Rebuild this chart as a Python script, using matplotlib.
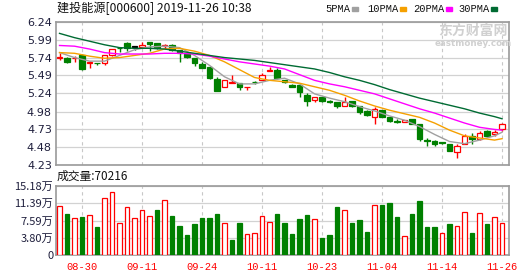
import matplotlib
matplotlib.use("Agg")
import matplotlib.pyplot as plt
from matplotlib.patches import Rectangle
import numpy as np

# Datos (precio en yuanes, volumen en 万手)
fechas = ["08-27", "08-28", "08-29", "08-30", "09-02", "09-03", "09-04", "09-05", "09-06", "09-09",
          "09-10", "09-11", "09-12", "09-16", "09-17", "09-18", "09-19", "09-20", "09-23", "09-24",
          "09-25", "09-26", "09-27", "09-30", "10-08", "10-09", "10-10", "10-11", "10-14", "10-15",
          "10-16", "10-17", "10-18", "10-21", "10-22", "10-23", "10-24", "10-25", "10-28", "10-29",
          "10-30", "10-31", "11-01", "11-04", "11-05", "11-06", "11-07", "11-08", "11-11", "11-12",
          "11-13", "11-14", "11-15", "11-18", "11-19", "11-20", "11-21", "11-22", "11-25", "11-26"]

apertura = [5.74, 5.73, 5.73, 5.77, 5.67, 5.67, 5.66, 5.78, 5.88, 5.94,
            5.89, 5.89, 5.96, 5.95, 5.90, 5.91, 5.85, 5.79, 5.73, 5.65,
            5.61, 5.44, 5.32, 5.38, 5.38, 5.32, 5.40, 5.42, 5.55, 5.57,
            5.43, 5.36, 5.35, 5.22, 5.14, 5.19, 5.13, 5.12, 5.06, 5.13,
            5.06, 4.99, 4.91, 5.00, 4.91, 4.85, 4.83, 4.87, 4.80, 4.58,
            4.57, 4.55, 4.52, 4.41, 4.52, 4.64, 4.59, 4.71, 4.66, 4.74]
cierre = [5.75, 5.68, 5.74, 5.58, 5.68, 5.66, 5.78, 5.86, 5.87, 5.88,
          5.89, 5.92, 5.93, 5.88, 5.91, 5.84, 5.81, 5.75, 5.67, 5.60,
          5.45, 5.27, 5.42, 5.39, 5.32, 5.33, 5.39, 5.50, 5.56, 5.45,
          5.40, 5.33, 5.25, 5.13, 5.19, 5.13, 5.12, 5.06, 5.12, 5.06,
          4.98, 4.93, 5.02, 4.90, 4.85, 4.84, 4.86, 4.80, 4.60, 4.57,
          4.53, 4.54, 4.43, 4.50, 4.64, 4.59, 4.68, 4.64, 4.70, 4.80]
maximo = [5.81, 5.75, 5.76, 5.79, 5.69, 5.67, 5.78, 5.86, 5.89, 5.96,
          5.90, 5.96, 5.96, 5.95, 5.93, 5.93, 5.85, 5.80, 5.73, 5.68,
          5.61, 5.47, 5.42, 5.49, 5.38, 5.33, 5.41, 5.52, 5.61, 5.59,
          5.43, 5.37, 5.35, 5.24, 5.19, 5.19, 5.15, 5.12, 5.18, 5.13,
          5.06, 5.00, 5.05, 5.01, 4.91, 4.87, 4.86, 4.88, 4.80, 4.61,
          4.58, 4.55, 4.52, 4.53, 4.67, 4.68, 4.71, 4.72, 4.72, 4.82]
minimo = [5.71, 5.66, 5.68, 5.57, 5.59, 5.64, 5.63, 5.76, 5.82, 5.83,
          5.84, 5.88, 5.83, 5.86, 5.86, 5.83, 5.68, 5.73, 5.62, 5.60,
          5.44, 5.27, 5.32, 5.38, 5.28, 5.29, 5.37, 5.42, 5.55, 5.44,
          5.38, 5.33, 5.19, 5.06, 5.12, 5.12, 5.10, 5.03, 5.06, 5.04,
          4.95, 4.92, 4.81, 4.90, 4.83, 4.82, 4.83, 4.80, 4.57, 4.50,
          4.50, 4.53, 4.42, 4.33, 4.52, 4.53, 4.58, 4.62, 4.64, 4.71]
volumen = [10.85, 8.93, 8.14, 8.43, 8.87, 6.23, 12.54, 13.93, 7.04, 10.63,
           8.14, 9.90, 8.58, 9.97, 12.10, 8.65, 6.45, 4.47, 6.89, 8.14,
           8.14, 8.93, 7.04, 3.37, 7.04, 4.62, 4.91, 8.58, 7.17, 9.09,
           7.11, 4.69, 7.99, 8.87, 7.92, 3.81, 4.47, 10.63, 9.90, 7.11,
           7.77, 5.13, 11.07, 11.07, 11.51, 8.43, 4.18, 9.09, 11.95, 6.23,
           6.23, 4.84, 6.89, 6.38, 9.46, 4.91, 9.24, 6.89, 8.36, 7.02]
cierre_previo = 5.70  # cierre del dia anterior a 08-27

# medias moviles leidas cada dos sesiones
ma_idx = list(range(0, 60, 2)) + [59]
ma5 = [5.81, 5.74, 5.69, 5.69, 5.77, 5.85, 5.89, 5.90, 5.88, 5.77, 5.63, 5.47, 5.37, 5.37, 5.42, 5.45,
       5.37, 5.23, 5.17, 5.12, 5.05, 4.99, 4.92, 4.86, 4.77, 4.66, 4.56, 4.53, 4.58, 4.64, 4.69]
ma10 = [5.81, 5.80, 5.76, 5.73, 5.74, 5.77, 5.80, 5.86, 5.87, 5.83, 5.77, 5.68, 5.57, 5.46, 5.42, 5.40,
        5.38, 5.33, 5.28, 5.21, 5.13, 5.06, 5.00, 4.95, 4.90, 4.82, 4.72, 4.64, 4.61, 4.58, 4.60]
ma20 = [5.91, 5.90, 5.86, 5.81, 5.79, 5.79, 5.79, 5.80, 5.80, 5.79, 5.76, 5.72, 5.68, 5.65, 5.62, 5.58,
        5.50, 5.42, 5.37, 5.33, 5.28, 5.23, 5.16, 5.09, 5.02, 4.96, 4.89, 4.82, 4.76, 4.73, 4.72]
ma30 = [6.08, 6.02, 5.97, 5.92, 5.88, 5.87, 5.87, 5.86, 5.83, 5.80, 5.77, 5.74, 5.72, 5.70, 5.67, 5.64,
        5.61, 5.58, 5.53, 5.47, 5.42, 5.36, 5.29, 5.23, 5.17, 5.12, 5.07, 5.02, 4.96, 4.91, 4.88]

fechas_marcadas = ["08-30", "09-11", "09-24", "10-11", "10-23", "11-04", "11-14", "11-26"]
precio_ticks = [4.23, 4.48, 4.73, 4.98, 5.24, 5.49, 5.74, 5.99, 6.24]
vol_ticks = [0, 3.80, 7.59, 11.39, 15.18]
vol_etiquetas = ["0", "3.80万", "7.59万", "11.39万", "15.18万"]
titulo = "建投能源[000600] 2019-11-26 10:38"
vol_actual = 70216

ROJO = "#ff0000"
VERDE = "#008000"
GRIS_BORDE = "#9a9a9a"
COLOR_TICK = "#1e1e3c"
CJK = ["Noto Sans CJK SC", "DejaVu Sans"]
W, H = 530, 276


def fx(px):
    return px / W


def fy(py):
    return 1 - py / H


fig = plt.figure(figsize=(W / 100, H / 100), dpi=100)
ax = fig.add_axes([fx(56), fy(165), fx(453), 143 / H])
axv = fig.add_axes([fx(56), fy(255), fx(453), 69 / H])

x = np.arange(len(cierre))
o = np.array(apertura)
c = np.array(cierre)
h = np.array(maximo)
l = np.array(minimo)

# velas
color_vela = np.where(c > o, ROJO, np.where(c < o, VERDE, "#000000"))
relleno = np.where(c > o, "white", color_vela)
ax.vlines(x, l, h, colors=color_vela, lw=1.0, zorder=2)
ax.bar(x, np.maximum(np.abs(c - o), 0.006), bottom=np.minimum(o, c), width=0.68,
       color=relleno, edgecolor=color_vela, linewidth=0.9, zorder=3)

# medias moviles
ax.plot(ma_idx, ma5, color="#a0a0a0", lw=1.0, zorder=4)
ax.plot(ma_idx, ma10, color="#f5a000", lw=1.0, zorder=4)
ax.plot(ma_idx, ma20, color="#ff00ff", lw=1.0, zorder=4)
ax.plot(ma_idx, ma30, color="#006b33", lw=1.0, zorder=4)

# volumen: rojo si cierra por encima del dia anterior
previo = np.concatenate([[cierre_previo], c[:-1]])
sube = c > previo
color_vol = np.where(sube, ROJO, VERDE)
axv.bar(x, volumen, width=0.64, color=np.where(sube, "white", VERDE),
        edgecolor=color_vol, linewidth=0.9, zorder=3)

pos_fechas = [fechas.index(f) for f in fechas_marcadas]

for a in (ax, axv):
    a.set_xlim(-0.47, 59.93)
    a.set_xticks(pos_fechas)
    a.grid(axis="y", color="#d2d2d2", lw=0.9, zorder=0)
    a.grid(axis="x", color="#c8c8c8", lw=0.8, linestyle=(0, (3, 3)), zorder=0)
    a.set_axisbelow(True)
    for s in a.spines.values():
        s.set_color(GRIS_BORDE)
        s.set_linewidth(1.2)
    a.tick_params(length=0, colors=COLOR_TICK, labelsize=8)

ax.set_ylim(4.23, 6.24)
ax.set_yticks(precio_ticks)
ax.set_yticklabels([f"{v:.2f}" for v in precio_ticks])
ax.tick_params(axis="y", pad=3)
ax.tick_params(axis="x", labelbottom=False)

axv.set_ylim(0, 15.18)
axv.set_yticks(vol_ticks)
axv.set_yticklabels(vol_etiquetas, family=CJK)
axv.tick_params(axis="y", pad=2)
axv.set_xticklabels(fechas_marcadas, family="Liberation Mono", fontsize=7.5, color=ROJO)
axv.tick_params(axis="x", pad=5)

# textos de cabecera
fig.text(fx(57), fy(8), titulo, family=CJK, fontsize=8.7, va="center", ha="left", color="#111111")
fig.text(fx(57), fy(176), f"成交量:{vol_actual}", family=CJK, fontsize=8.5, va="center",
         ha="left", color="#111111")

leyenda = [("5PMA", "#a0a0a0", 325), ("10PMA", "#f5a000", 367),
           ("20PMA", "#ff00ff", 413), ("30PMA", "#006b33", 458)]
for nombre, color, px in leyenda:
    fig.text(fx(px), fy(9), nombre, family="Liberation Mono", fontsize=7.5,
             va="center", ha="left", color="#111111")
    ancho = len(nombre) * 6.25
    fig.patches.append(Rectangle((fx(px + ancho + 1.5), fy(10.5)), fx(6), 3.5 / H,
                                 transform=fig.transFigure, color=color))

# marca de agua
fig.text(fx(473), fy(31), "东方财富网", family=CJK, fontsize=10, fontweight="bold",
         color="#d0d0d0", ha="center", va="center", zorder=1)
fig.text(fx(473), fy(43), "eastmoney.com", family="DejaVu Sans", fontsize=6.3,
         fontweight="bold", color="#d0d0d0", ha="center", va="center", zorder=1)

fig.savefig("out.png", dpi=100)
